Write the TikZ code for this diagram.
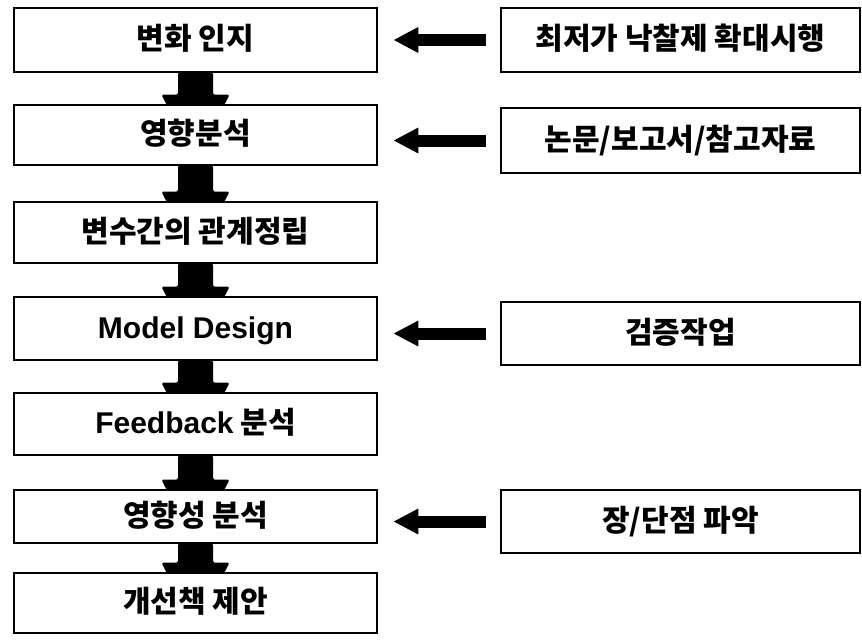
\documentclass[tikz,border=0pt]{standalone}
\usepackage{fontspec}
\setmainfont{Liberation Sans}
\newfontfamily\kr{Noto Sans CJK KR}[BoldFont={Noto Sans CJK KR Black}]
\newfontfamily\lat{Liberation Sans}
\usetikzlibrary{arrows.meta,calc}
\newcommand{\vconn}[2]{%
  \fill[rounded corners=1.5pt] ($(#1.south)+(-17.5,-1)$) -- ($(#1.south)+(17.5,-1)$)
    -- ($(#2.north)+(17.5,-9)$) -- ($(#2.north)+(34,-9)$) -- ($(#2.north)+(29,1)$)
    -- ($(#2.north)+(-29,1)$) -- ($(#2.north)+(-34,-9)$) -- ($(#2.north)+(-17.5,-9)$) -- cycle;}
\begin{document}
\begin{tikzpicture}[x=1pt,y=-1pt,
  txt/.style={inner sep=0pt, text height=19pt, text depth=0pt,
    font=\kr\bfseries\fontsize{30}{32}\selectfont},
  box/.style={txt, draw, line width=2.6pt, minimum width=363pt, minimum height=#1},
  rbox/.style={txt, draw, line width=2.6pt, minimum width=359pt, minimum height=#1},
  larrow/.style={line width=12pt, -{Triangle[length=25pt,width=24pt]}, shorten <=14pt, shorten >=15pt}]
\useasboundingbox (0,0) rectangle (862,642);
\node[box=64pt] (b1) at (195.5,40) {변화 인지};
\node[box=60pt] (b2) at (195.5,135) {영향분석};
\node[box=61pt] (b3) at (195.5,232.5) {변수간의 관계정립};
\node[box=63pt] (b4) at (195.5,328.5) {{\lat\bfseries Model Design}};
\node[box=62pt] (b5) at (195.5,424) {{\lat\bfseries Feedback} 분석};
\node[box=53pt] (b6) at (195.5,516.5) {영향성 분석};
\node[box=60pt] (b7) at (195.5,603) {개선책 제안};
\node[rbox=64pt] (r1) at (680.5,40) {최저가 낙찰제 확대시행};
\node[rbox=65pt] (r2) at (680.5,140.5) {논문/보고서/참고자료};
\node[rbox=63pt] (r3) at (680.5,333.5) {검증작업};
\node[rbox=63pt] (r4) at (680.5,521.5) {장/단점 파악};
\vconn{b1}{b2}
\vconn{b2}{b3}
\vconn{b3}{b4}
\vconn{b4}{b5}
\vconn{b5}{b6}
\vconn{b6}{b7}
\draw[larrow] (r1.west) -- (r1.west -| b1.east);
\draw[larrow] (r2.west) -- (r2.west -| b2.east);
\draw[larrow] (r3.west) -- (r3.west -| b4.east);
\draw[larrow] (r4.west) -- (r4.west -| b6.east);
\end{tikzpicture}
\end{document}
